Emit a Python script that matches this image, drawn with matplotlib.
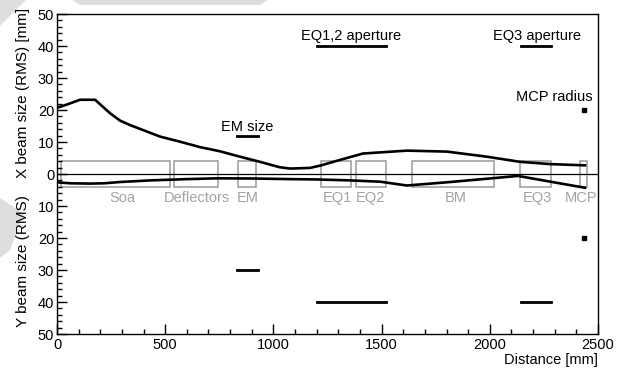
import matplotlib
matplotlib.use("Agg")
import matplotlib.pyplot as plt
from matplotlib.patches import Rectangle, Polygon
from matplotlib.ticker import MultipleLocator, FuncFormatter

plt.rcParams['font.family'] = ['Liberation Sans', 'DejaVu Sans']

# ---- data ----
x_dist = [0, 50, 106, 176, 245, 291, 337, 476, 568, 661, 753, 846, 938, 1030, 1077, 1169, 1215, 1308, 1414, 1617, 1802, 1987, 2140, 2278, 2440]
x_size = [20.7, 21.8, 23.2, 23.2, 19.0, 16.7, 15.3, 11.7, 10.1, 8.4, 7.1, 5.4, 3.8, 2.1, 1.7, 1.9, 2.6, 4.4, 6.4, 7.3, 7.0, 5.4, 3.8, 3.1, 2.7]

y_dist = [0, 60, 152, 220, 291, 430, 600, 739, 900, 1077, 1200, 1354, 1493, 1617, 1800, 2000, 2130, 2280, 2440]
y_size = [2.6, 2.9, 3.0, 2.9, 2.5, 2.0, 1.6, 1.35, 1.4, 1.6, 1.7, 2.0, 2.4, 3.6, 2.6, 1.4, 0.6, 2.4, 4.3]

elements = ["Soa", "Deflectors", "EM", "EQ1", "EQ2", "BM", "EQ3", "MCP"]
elem_start = [20, 541, 838, 1218, 1380, 1639, 2140, 2417]
elem_end = [522, 746, 918, 1359, 1520, 2021, 2281, 2448]
elem_label_x = [300, 647, 880, 1296, 1446, 1843, 2221, 2421]
elem_half_height = 4

apert_labels = ["EM size", "EQ1,2 aperture", "EQ3 aperture"]
apert_start = [830, 1203, 2143]
apert_end = [927, 1519, 2281]
apert_x = [12, 40, 40]
apert_y = [30, 40, 40]
apert_label_x = [878, 1360, 2217]
apert_label_y = [13.5, 42.0, 42.0]

mcp_dist = 2437
mcp_radius = 20

fig = plt.figure(figsize=(6.21, 3.70), dpi=100)

# light watermark shapes
W, H = 621, 370
def fpoly(pts):
    return Polygon([(x / W, 1 - y / H) for x, y in pts], closed=True,
                   transform=fig.transFigure, facecolor='#dedede', edgecolor='none', zorder=0)
fig.patches.append(fpoly([(0, 0), (26, 0), (0, 26)]))
fig.patches.append(fpoly([(72, 0), (268, 0), (260, 5), (80, 5)]))
fig.patches.append(fpoly([(0, 198), (24, 214), (10, 250), (0, 258)]))

ax = fig.add_axes([57 / W, 1 - 334 / H, (598 - 57) / W, (334 - 14) / H])
ax.set_facecolor('none')

ax.set_xlim(0, 2500)
ax.set_ylim(-50, 50)

# zero line
ax.axhline(0, color='black', lw=0.9, zorder=2)

# element boxes
for s, e, lab, lx in zip(elem_start, elem_end, elements, elem_label_x):
    ax.add_patch(Rectangle((s, -elem_half_height), e - s, 2 * elem_half_height,
                           facecolor='none', edgecolor='#9a9a9a', lw=1.1, zorder=1))
    ax.text(lx, -8.7, lab, color='#a3a3a3', fontsize=10.5, ha='center', va='baseline')

# beam curves
ax.plot(x_dist, x_size, color='black', lw=1.9, zorder=3)
ax.plot(y_dist, [-v for v in y_size], color='black', lw=1.9, zorder=3)

# apertures
for s, e, ax_v, ay_v, lab, lx, ly in zip(apert_start, apert_end, apert_x, apert_y,
                                         apert_labels, apert_label_x, apert_label_y):
    ax.plot([s, e], [ax_v, ax_v], color='black', lw=2.0)
    ax.plot([s, e], [-ay_v, -ay_v], color='black', lw=2.0)
    ax.text(lx, ly, lab, fontsize=10.5, ha='center', va='baseline')

ax.plot([mcp_dist], [mcp_radius], 's', color='black', ms=3.5)
ax.plot([mcp_dist], [-mcp_radius], 's', color='black', ms=3.5)
ax.text(2299, 22.7, "MCP radius", fontsize=10.5, ha='center', va='baseline')

# ticks
ax.xaxis.set_major_locator(MultipleLocator(500))
ax.xaxis.set_minor_locator(MultipleLocator(100))
ax.yaxis.set_major_locator(MultipleLocator(10))
ax.yaxis.set_minor_locator(MultipleLocator(2))
ax.yaxis.set_major_formatter(FuncFormatter(lambda v, p: f"{abs(int(round(v)))}"))
ax.tick_params(axis='both', which='both', direction='in', top=False, right=False)
ax.tick_params(axis='both', which='major', length=7.5, width=1.0, labelsize=10.5)
ax.tick_params(axis='both', which='minor', length=3.8, width=1.0)
ax.tick_params(axis='y', which='major', pad=2)
ax.tick_params(axis='x', which='major', pad=3)
for sp in ax.spines.values():
    sp.set_linewidth(1.0)

fig.text(23 / W, 1 - 92.5 / H, "X beam size (RMS) [mm]", rotation=90, fontsize=11,
         ha='center', va='center')
fig.text(23 / W, 1 - 261 / H, "Y beam size (RMS)", rotation=90, fontsize=11,
         ha='center', va='center')
fig.text(598 / W, 1 - 360 / H, "Distance [mm]", fontsize=10.5, ha='right', va='center')

fig.savefig("out.png", dpi=100)
